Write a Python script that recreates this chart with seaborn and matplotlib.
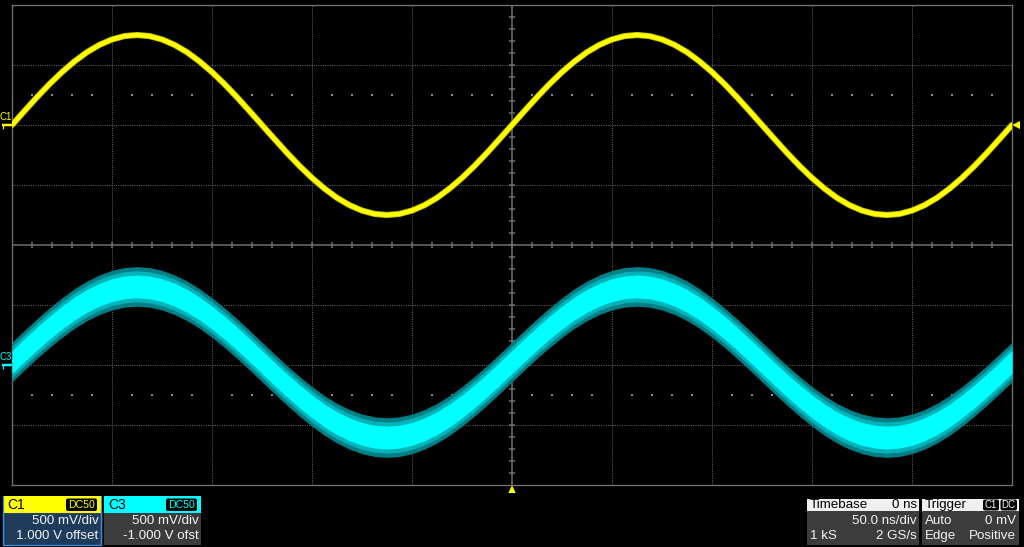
import numpy as np
import pandas as pd
import matplotlib
matplotlib.use("Agg")
import matplotlib.pyplot as plt
import matplotlib.transforms as mtransforms
from matplotlib.patches import Rectangle, FancyBboxPatch, Polygon
from matplotlib.lines import Line2D
import seaborn as sns

time_ns = [-250.0, -243.75, -237.5, -231.25, -225.0, -218.75, -212.5, -206.25, -200.0, -193.75,
           -187.5, -181.25, -175.0, -168.75, -162.5, -156.25, -150.0, -143.75, -137.5, -131.25,
           -125.0, -118.75, -112.5, -106.25, -100.0, -93.75, -87.5, -81.25, -75.0, -68.75,
           -62.5, -56.25, -50.0, -43.75, -37.5, -31.25, -25.0, -18.75, -12.5, -6.25,
           0.0, 6.25, 12.5, 18.75, 25.0, 31.25, 37.5, 43.75, 50.0, 56.25,
           62.5, 68.75, 75.0, 81.25, 87.5, 93.75, 100.0, 106.25, 112.5, 118.75,
           125.0, 131.25, 137.5, 143.75, 150.0, 156.25, 162.5, 168.75, 175.0, 181.25,
           187.5, 193.75, 200.0, 206.25, 212.5, 218.75, 225.0, 231.25, 237.5, 243.75, 250.0]

c1_volts = [0.000, 0.117, 0.232, 0.341, 0.441, 0.530, 0.607, 0.668, 0.713, 0.741,
            0.750, 0.741, 0.713, 0.668, 0.607, 0.530, 0.441, 0.341, 0.232, 0.117,
            0.000, -0.117, -0.232, -0.341, -0.441, -0.530, -0.607, -0.668, -0.713, -0.741,
            -0.750, -0.741, -0.713, -0.668, -0.607, -0.530, -0.441, -0.341, -0.232, -0.117,
            0.000, 0.117, 0.232, 0.341, 0.441, 0.530, 0.607, 0.668, 0.713, 0.741,
            0.750, 0.741, 0.713, 0.668, 0.607, 0.530, 0.441, 0.341, 0.232, 0.117,
            0.000, -0.117, -0.232, -0.341, -0.441, -0.530, -0.607, -0.668, -0.713, -0.741,
            -0.750, -0.741, -0.713, -0.668, -0.607, -0.530, -0.441, -0.341, -0.232, -0.117,
            0.000]

c3_volts = [0.025, 0.124, 0.220, 0.311, 0.395, 0.471, 0.535, 0.586, 0.624, 0.647,
            0.655, 0.647, 0.624, 0.586, 0.535, 0.471, 0.395, 0.311, 0.220, 0.124,
            0.025, -0.074, -0.170, -0.261, -0.345, -0.421, -0.485, -0.536, -0.574, -0.597,
            -0.605, -0.597, -0.574, -0.536, -0.485, -0.421, -0.345, -0.261, -0.170, -0.074,
            0.025, 0.124, 0.220, 0.311, 0.395, 0.471, 0.535, 0.586, 0.624, 0.647,
            0.655, 0.647, 0.624, 0.586, 0.535, 0.471, 0.395, 0.311, 0.220, 0.124,
            0.025, -0.074, -0.170, -0.261, -0.345, -0.421, -0.485, -0.536, -0.574, -0.597,
            -0.605, -0.597, -0.574, -0.536, -0.485, -0.421, -0.345, -0.261, -0.170, -0.074,
            0.025]

c1_offset_v = 1.0
c3_offset_v = -1.0
volts_per_div = 0.5
ns_per_div = 50.0

c1_panel = ["C1", "DC50", "500 mV/div", "1.000 V offset"]
c3_panel = ["C3", "DC50", "500 mV/div", "-1.000 V ofst"]
tb_panel = ["Timebase", "0 ns", "50.0 ns/div", "1 kS", "2 GS/s"]
trig_panel = ["Trigger", "C1", "DC", "Auto", "0 mV", "Edge", "Positive"]

# ---------------- style ----------------
sns.set_style("dark")
plt.rcParams['font.family'] = ['Liberation Sans', 'DejaVu Sans']

W, H = 1024, 547
PX = 0.72  # points per pixel at 100 dpi
fig = plt.figure(figsize=(W / 100, H / 100), dpi=100, facecolor='black')
ax = fig.add_axes([12 / W, (H - 485) / H, 1000 / W, 480 / H])
ax.set_facecolor('black')

df = pd.DataFrame({
    "t": time_ns,
    "c1": (np.array(c1_volts) + c1_offset_v) / volts_per_div,
    "c3": (np.array(c3_volts) + c3_offset_v) / volts_per_div,
})

GRID = '#646464'
# dotted graticule
for i in range(1, 10):
    if i == 5:
        continue
    ax.axvline(-250 + ns_per_div * i, color=GRID, lw=1 * PX, ls=(0, (1, 1.3)), zorder=1)
for j in [-3, -2, -1, 1, 2, 3]:
    ax.axhline(j, color=GRID, lw=1 * PX, ls=(0, (1, 1.3)), zorder=1)
# centre cross with minor ticks
ax.axhline(0, color='#727272', lw=1.5 * PX, zorder=1)
ax.axvline(0, color='#727272', lw=1.5 * PX, zorder=1)
xt = np.arange(-240, 250, 10)
ax.vlines(xt, -0.05, 0.05, color='#727272', lw=1.5 * PX, zorder=1)
yt = np.arange(-3.8, 4.0, 0.2)
ax.hlines(yt, -1.5, 1.5, color='#727272', lw=1.5 * PX, zorder=1)
# half-division dot rows
xd = np.array([x for x in np.arange(-240, 250, 10) if x % 50 != 0])
for yr in [2.5, -2.5]:
    ax.scatter(xd, np.full(len(xd), yr), s=0.9, marker='s', color='#8a8a8a',
               linewidths=0, zorder=1)

# C3 noisy band
for half, col in [(0.33, '#007f86'), (0.26, '#00b3b8'), (0.19, '#00ffff')]:
    ax.fill_between(df["t"], df["c3"] - half, df["c3"] + half, color=col,
                    linewidth=0, zorder=3)
sns.lineplot(data=df, x="t", y="c3", ax=ax, color='#00ffff', lw=1, zorder=4)

# C1 trace
sns.lineplot(data=df, x="t", y="c1", ax=ax, color='#b0b000', lw=6.2 * PX, zorder=5)
sns.lineplot(data=df, x="t", y="c1", ax=ax, color='#ffff00', lw=4.6 * PX, zorder=6)

ax.set_xlim(-250, 250)
ax.set_ylim(-4, 4)
ax.set_xticks([]); ax.set_yticks([])
ax.set_xlabel(""); ax.set_ylabel("")
for s in ax.spines.values():
    s.set_color('#747474')
    s.set_linewidth(1.3 * PX)
    s.set_visible(True)

# channel markers (left), trigger level (right), trigger position (bottom)
bl_y = mtransforms.blended_transform_factory(ax.transAxes, ax.transData)
bl_x = mtransforms.blended_transform_factory(ax.transData, ax.transAxes)
for name, off, col in [("C1", c1_offset_v, '#ffff00'), ("C3", c3_offset_v, '#00ffff')]:
    yb = off / volts_per_div
    ax.text(-0.012, yb + 8 / 60, name, transform=bl_y, color=col, fontsize=7,
            ha='left', va='center', clip_on=False)
    ax.add_line(Line2D([-0.010, 0.0], [yb, yb], transform=bl_y, color=col,
                       lw=2.5 * PX, clip_on=False, solid_capstyle='butt'))
    ax.add_line(Line2D([-0.0095, -0.0095], [yb, yb - 3.5 / 60], transform=bl_y, color=col,
                       lw=1.2 * PX, clip_on=False, solid_capstyle='butt'))

ytrig = c1_offset_v / volts_per_div
ax.add_patch(Polygon([[1.0, ytrig], [1.008, ytrig + 4 / 60], [1.008, ytrig - 4 / 60]],
                     closed=True, transform=bl_y, color='#ffff00', clip_on=False, lw=0))
ax.add_patch(Polygon([[0.0, 0.0], [-1.8, -8 / 480], [1.8, -8 / 480]],
                     closed=True, transform=bl_x, color='#ffff00', clip_on=False, lw=0))

# ---------------- bottom info panels (pixel overlay) ----------------
ov = fig.add_axes([0, 0, 1, 1], zorder=10)
ov.set_xlim(0, W)
ov.set_ylim(H, 0)
ov.axis('off')

FS = 9.6
TXT = '#f2f2f2'
BODY = '#3c3c3c'


def badge(x0, x1, y0, y1, text, col, fs=7.6):
    ov.add_patch(FancyBboxPatch((x0, y0), x1 - x0, y1 - y0,
                                boxstyle="round,pad=0,rounding_size=2",
                                fc='black', ec='none'))
    ov.text((x0 + x1) / 2, (y0 + y1) / 2 + 0.3, text, color=col, fontsize=fs,
            ha='center', va='center')


def channel_box(x0, w, labels, hdr, body, border):
    ov.add_patch(Rectangle((x0, 512), w, 33, fc=body, ec=border if border else 'none',
                           lw=1.3 * PX))
    ov.add_patch(Rectangle((x0, 496), w, 16.5, fc=hdr, ec='none'))
    if border:
        ov.add_line(Line2D([x0, x0], [496, 545], color=border, lw=1.3 * PX))
        ov.add_line(Line2D([x0 + w, x0 + w], [496, 545], color=border, lw=1.3 * PX))
    ov.text(x0 + 4.5, 504.7, labels[0], color='black', fontsize=10, ha='left', va='center')
    badge(x0 + w - 35, x0 + w - 4, 498.5, 511, labels[1], hdr)
    ov.text(x0 + w - 2.5, 521.4, labels[2], color=TXT, fontsize=FS, ha='right', va='center')
    ov.text(x0 + w - 2.5, 535.6, labels[3], color=TXT, fontsize=FS, ha='right', va='center')


channel_box(3, 98, c1_panel, '#ffff00', '#1f3b5c', '#3b8fe3')
channel_box(104, 97, c3_panel, '#00ffff', BODY, None)

# Timebase
ov.add_patch(Rectangle((807, 511), 112, 34, fc=BODY, ec='none'))
ov.add_patch(Rectangle((807, 498.5), 112, 12.8, fc='#f0f0f0', ec='none'))
ov.text(810, 504.8, tb_panel[0], color='black', fontsize=FS, ha='left', va='center')
ov.text(917, 504.8, tb_panel[1], color='black', fontsize=FS, ha='right', va='center')
ov.text(917, 521.4, tb_panel[2], color=TXT, fontsize=FS, ha='right', va='center')
ov.text(810, 535.6, tb_panel[3], color=TXT, fontsize=FS, ha='left', va='center')
ov.text(917, 535.6, tb_panel[4], color=TXT, fontsize=FS, ha='right', va='center')

# Trigger
ov.add_patch(Rectangle((922, 511), 97, 34, fc=BODY, ec='none'))
ov.add_patch(Rectangle((922, 498.5), 97, 12.8, fc='#f0f0f0', ec='none'))
ov.text(925, 504.8, trig_panel[0], color='black', fontsize=FS, ha='left', va='center')
badge(983, 999, 499.5, 510.5, trig_panel[1], 'white', fs=7)
badge(1000.5, 1017, 499.5, 510.5, trig_panel[2], 'white', fs=7)
ov.text(925, 521.4, trig_panel[3], color=TXT, fontsize=FS, ha='left', va='center')
ov.text(1016, 521.4, trig_panel[4], color=TXT, fontsize=FS, ha='right', va='center')
ov.text(925, 535.6, trig_panel[5], color=TXT, fontsize=FS, ha='left', va='center')
ov.text(1016, 535.6, trig_panel[6], color=TXT, fontsize=FS, ha='right', va='center')

fig.savefig("out.png", dpi=100, facecolor='black')
